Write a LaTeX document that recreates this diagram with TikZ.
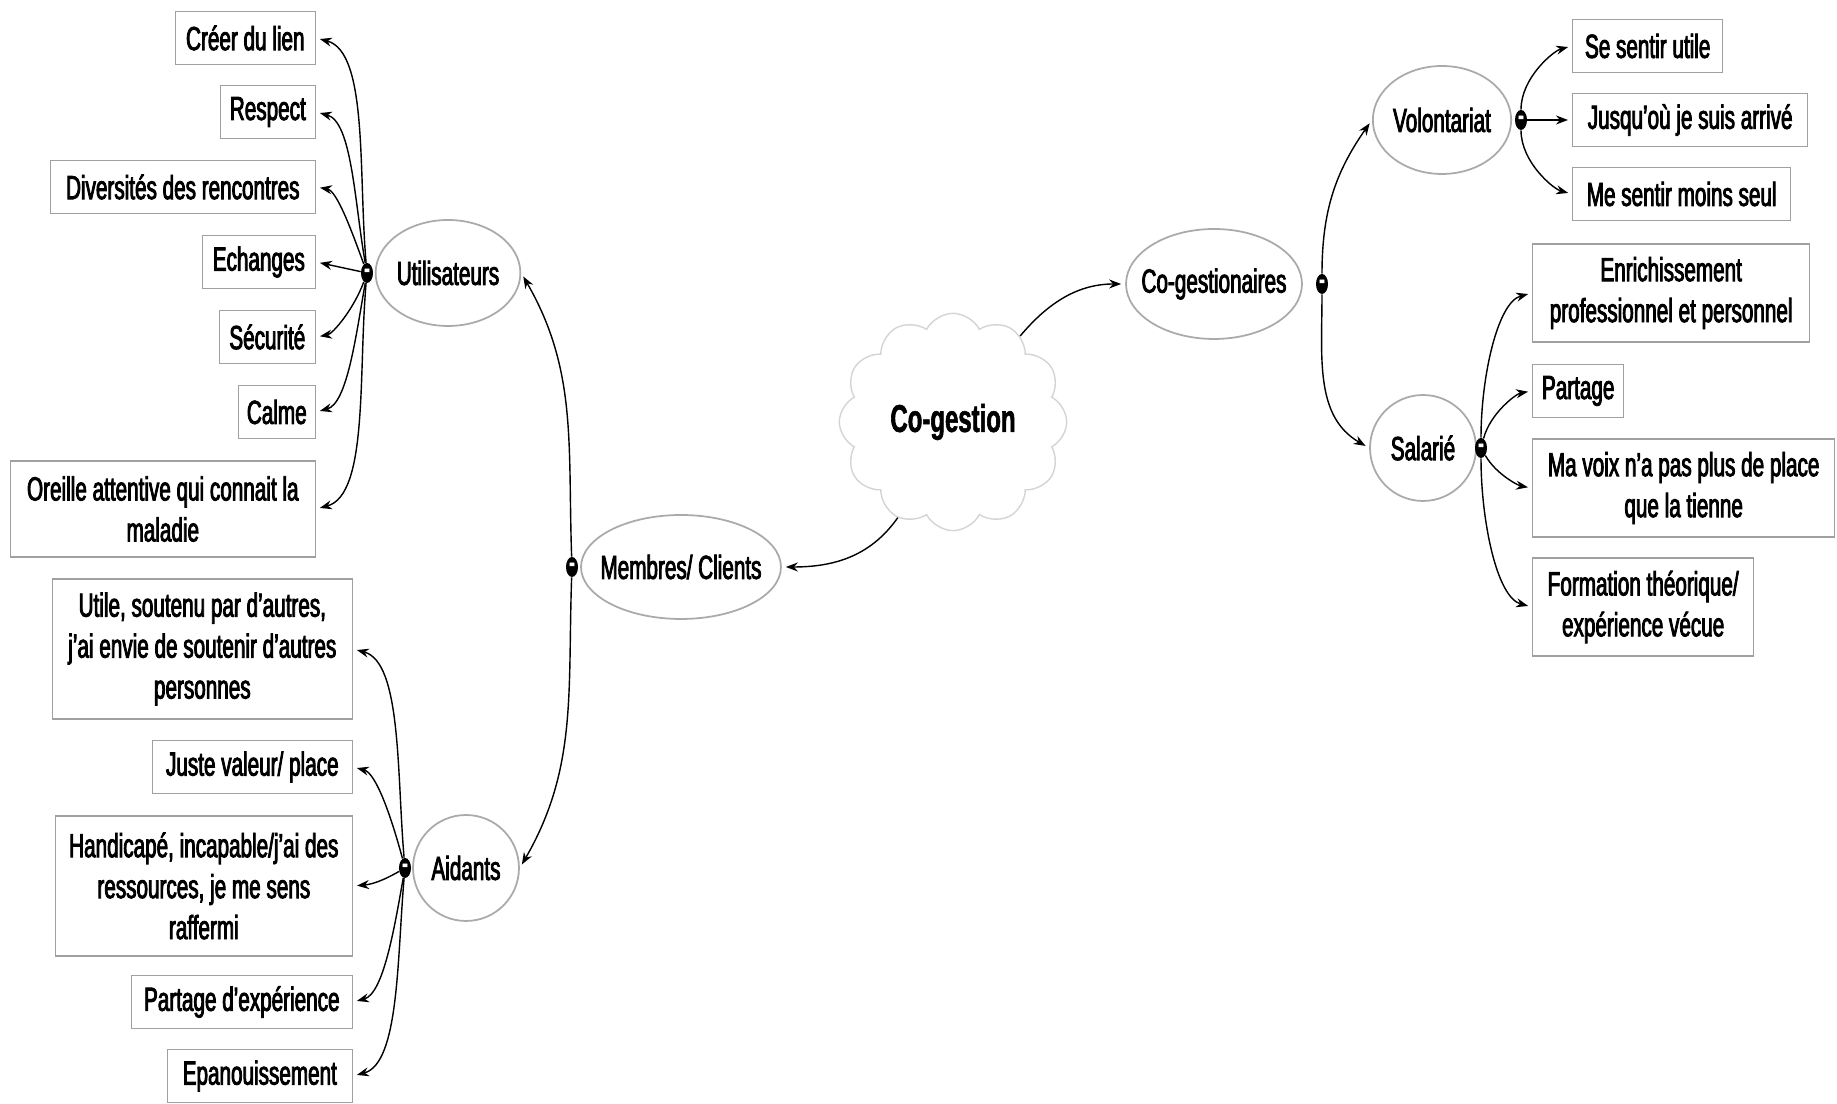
\documentclass[tikz,border=0pt]{standalone}
\usepackage{fontspec}
\setmainfont{Liberation Sans}[FakeStretch=0.62,UprightFeatures={FakeBold=2.5},BoldFeatures={FakeBold=1.5}]
\usetikzlibrary{arrows.meta,shapes.geometric,shapes.symbols}
\definecolor{boxgray}{RGB}{160,160,160}
\definecolor{ovalgray}{RGB}{170,170,170}
\definecolor{cloudgray}{RGB}{212,212,212}

\begin{document}
\begin{tikzpicture}[x=0.02cm,y=0.02cm,
  leaf/.style={draw=boxgray,line width=0.8pt,fill=white,minimum height=1.06cm,inner sep=0.1cm,align=center,font=\fontsize{19}{23.3}\selectfont},
  topic/.style={ellipse,draw=ovalgray,line width=1pt,fill=white,inner sep=0pt,font=\fontsize{19}{23.3}\selectfont},
  fold/.style={ellipse,fill=black,minimum width=0.24cm,minimum height=0.4cm,inner sep=0pt,text=white,font=\bfseries\fontsize{15}{15}\selectfont},
  arr/.style={-{Stealth[length=2.4mm,width=1.8mm]},line width=0.8pt,shorten >=0.08cm}]
\useasboundingbox (0,0) rectangle (1837,1104);

\draw (953,682) node[cloud,cloud puffs=12,cloud puff arc=125,aspect=1.0,draw=cloudgray,line width=0.8pt,minimum width=4.55cm,minimum height=4.3cm,font=\bfseries\fontsize{22}{26}\selectfont](cog) {Co-gestion};

\draw (681,537) node[topic,minimum width=4.0cm,minimum height=2.08cm,inner xsep=-0.25cm](memb) {Membres/ Clients};
\draw (448,831) node[topic,minimum width=2.88cm,minimum height=2.12cm](util) {Utilisateurs};
\draw (466,236) node[topic,circle,minimum size=2.12cm](aid) {Aidants};
\draw (1214,820) node[topic,minimum width=3.52cm,minimum height=2.2cm,inner xsep=-0.22cm](cgest) {Co-gestionaires};
\draw (1442,984) node[topic,minimum width=2.76cm,minimum height=2.16cm](vol) {Volontariat};
\draw (1423,656) node[topic,circle,minimum size=2.12cm](sal) {Salarié};

\draw (572,537) node[fold](mdot) {-};
\draw (367,831) node[fold](udot) {-};
\draw (405,236) node[fold](adot) {-};
\draw (1322,820) node[fold](cdot) {-};
\draw (1521,984) node[fold](vdot) {-};
\draw (1481,656) node[fold](sdot) {-};

\draw (316,1066) node[leaf,anchor=east,minimum width=2.8cm](crl) {Créer du lien};
\draw (316,992) node[leaf,anchor=east,minimum width=1.9cm](rsp) {Respect};
\draw (316,917) node[leaf,anchor=east,minimum width=5.3cm](div) {Diversités des rencontres};
\draw (316,842) node[leaf,anchor=east,minimum width=2.26cm](ech) {Echanges};
\draw (316,767) node[leaf,anchor=east,minimum width=1.92cm](sec) {Sécurité};
\draw (316,692) node[leaf,anchor=east,minimum width=1.54cm](clm) {Calme};
\draw (316,595) node[leaf,anchor=east,minimum width=6.1cm,minimum height=1.92cm](orl) {Oreille attentive qui connait la\\maladie};

\draw (353,455) node[leaf,anchor=east,minimum width=6.0cm,minimum height=2.8cm](utl) {Utile, soutenu par d'autres,\\j'ai envie de soutenir d'autres\\personnes};
\draw (353,337) node[leaf,anchor=east,minimum width=4.0cm](jst) {Juste valeur/ place};
\draw (353,218) node[leaf,anchor=east,minimum width=5.94cm,minimum height=2.8cm](hnd) {Handicapé, incapable/j'ai des\\ressources, je me sens\\raffermi};
\draw (353,102) node[leaf,anchor=east,minimum width=4.42cm](pexp) {Partage d'expérience};
\draw (353,28) node[leaf,anchor=east,minimum width=3.7cm](epa) {Epanouissement};

\draw (1572,1058) node[leaf,anchor=west,minimum width=3.0cm](ssu) {Se sentir utile};
\draw (1572,984) node[leaf,anchor=west,minimum width=4.7cm](jsq) {Jusqu'où je suis arrivé};
\draw (1572,910) node[leaf,anchor=west,minimum width=4.36cm](msm) {Me sentir moins seul};
\draw (1532,811) node[leaf,anchor=west,minimum width=5.54cm,minimum height=1.96cm](enr) {Enrichissement\\professionnel et personnel};
\draw (1532,713) node[leaf,anchor=west,minimum width=1.82cm](prt) {Partage};
\draw (1532,616) node[leaf,anchor=west,minimum width=6.04cm,minimum height=1.96cm](mvx) {Ma voix n'a pas plus de place\\que la tienne};
\draw (1532,497) node[leaf,anchor=west,minimum width=4.42cm,minimum height=1.96cm](frm) {Formation théorique/\\expérience vécue};

\draw[arr] (cog.240) to[out=235,in=0] (memb.east);
\draw[arr] (cog.52) to[out=50,in=180] (cgest.west);
\draw[arr] (mdot) to[out=92,in=-60] (util.east);
\draw[arr] (mdot) to[out=-92,in=60] (aid.east);
\draw[arr] (cdot) to[out=90,in=-125] (vol.west);
\draw[arr] (cdot) to[out=-90,in=150] (sal.west);

\draw[arr] (udot) to[out=95,in=-15,in looseness=0.6] (crl.east);
\draw[arr] (udot) to[out=100,in=-15,in looseness=0.6] (rsp.east);
\draw[arr] (udot) to[out=110,in=-10,in looseness=0.6] (div.east);
\draw[arr] (udot) -- (ech.east);
\draw[arr] (udot) to[out=-110,in=10,in looseness=0.6] (sec.east);
\draw[arr] (udot) to[out=-100,in=15,in looseness=0.6] (clm.east);
\draw[arr] (udot) to[out=-95,in=15,in looseness=0.6] (orl.east);

\draw[arr] (adot) to[out=95,in=-15,in looseness=0.6] (utl.east);
\draw[arr] (adot) to[out=105,in=-15,in looseness=0.6] (jst.east);
\draw[arr] (adot) to[out=-150,in=5] (hnd.east);
\draw[arr] (adot) to[out=-100,in=15,in looseness=0.6] (pexp.east);
\draw[arr] (adot) to[out=-95,in=15,in looseness=0.6] (epa.east);

\draw[arr] (vdot) to[out=90,in=195,in looseness=0.6] (ssu.west);
\draw[arr] (vdot) -- (jsq.west);
\draw[arr] (vdot) to[out=-90,in=165,in looseness=0.6] (msm.west);

\draw[arr] (sdot) to[out=90,in=195,in looseness=0.6] (enr.west);
\draw[arr] (sdot) to[out=75,in=190,in looseness=0.6] (prt.west);
\draw[arr] (sdot) to[out=-60,in=170,in looseness=0.6] (mvx.west);
\draw[arr] (sdot) to[out=-90,in=165,in looseness=0.6] (frm.west);
\end{tikzpicture}
\end{document}
